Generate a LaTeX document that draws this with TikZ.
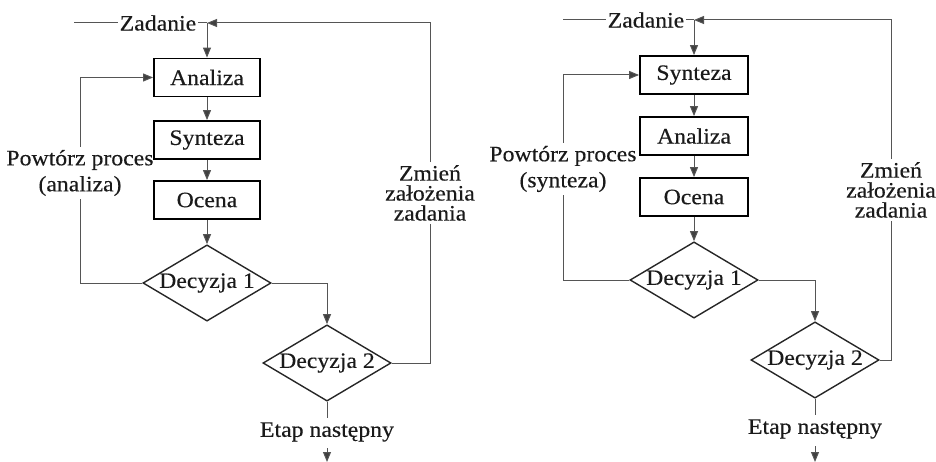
\documentclass[tikz,border=0pt]{standalone}
\usepackage{fontspec}
\setmainfont{Liberation Serif}[FakeStretch=1.08,FakeBold=0.3]
\usetikzlibrary{shapes.geometric,arrows.meta}
\definecolor{linegray}{HTML}{555555}
\definecolor{tipgray}{HTML}{404040}
\definecolor{textgray}{HTML}{1A1A1A}
\begin{document}
\begin{tikzpicture}[x=1pt,y=-1pt,
  font=\fontsize{22}{24}\selectfont, text=textgray,
  stepbox/.style={draw=black,line width=1.8pt,minimum width=106pt,minimum height=38pt,inner sep=0pt},
  choice/.style={diamond,draw=black!85,line width=1.4pt,aspect=1.68,minimum width=124pt,minimum height=74pt,inner sep=0pt},
  conn/.style={draw=linegray,line width=1pt},
  flow/.style={conn,-{Triangle[length=10pt,width=8pt,fill=tipgray]}},
  looplabel/.style={align=center,inner sep=3pt,font=\fontsize{22}{26}\selectfont},
  sidelabel/.style={align=center,inner sep=3pt,font=\fontsize{22}{20}\selectfont},
  plain/.style={inner sep=2pt}]
\useasboundingbox (0,0) rectangle (936,462);

% ---- left flow: analysis first ----
\coordinate (s1) at (74,23);
\coordinate (j1) at (207,23);
\node[plain] (z1) at (158,23) {Zadanie};
\node[stepbox] (a1) at (207,77.5) {Analiza};
\node[stepbox] (b1) at (207,140) {Synteza};
\node[stepbox] (c1) at (207,200) {Ocena};
\node[choice] (d1) at (207,283) {Decyzja 1};
\node[choice] (e1) at (327,363) {Decyzja 2};
\node[looplabel] (t1) at (80,173) {Powtórz proces\\(analiza)};
\node[sidelabel] (u1) at (430,193) {Zmień\\założenia\\zadania};
\coordinate (l1) at (80,283);
\coordinate (r1) at (430,363);
\coordinate (n1) at (327,418);
\node[plain] (x1) at (327,432) {Etap następny};
\coordinate (p1) at (327,448);
\coordinate (q1) at (327,462);

\draw[conn] (s1) -- (s1 -| z1.west);
\draw[conn] (z1.east |- j1) -- (j1);
\draw[flow] (j1) -- (a1.north);
\draw[flow] (a1) -- (b1);
\draw[flow] (b1) -- (c1);
\draw[flow] (c1) -- (d1.north);
\draw[conn] (d1.west) -- (l1) -- (t1.south);
\draw[flow] (t1.north) |- (a1.west);
\draw[flow] (d1.east) -| (e1.north);
\draw[conn] (e1.east) -- (r1) -- (u1.south);
\draw[flow] (u1.north) |- (j1);
\draw[conn] (e1.south) -- (n1);
\draw[flow] (p1) -- (q1);

% ---- right flow: synthesis first ----
\coordinate (s2) at (563,20);
\coordinate (j2) at (694,20);
\node[plain] (z2) at (646,20) {Zadanie};
\node[stepbox,minimum width=108pt] (a2) at (694,75) {Synteza};
\node[stepbox,minimum width=108pt] (b2) at (694,136) {Analiza};
\node[stepbox,minimum width=108pt] (c2) at (694,197) {Ocena};
\node[choice] (d2) at (694,280) {Decyzja 1};
\node[choice] (e2) at (815,360) {Decyzja 2};
\node[looplabel] (t2) at (563,169) {Powtórz proces\\(synteza)};
\node[sidelabel] (u2) at (891,190) {Zmień\\założenia\\zadania};
\coordinate (l2) at (563,280);
\coordinate (r2) at (891,360);
\coordinate (n2) at (815,415);
\node[plain] (x2) at (815,429) {Etap następny};
\coordinate (p2) at (815,446);
\coordinate (q2) at (815,462);

\draw[conn] (s2) -- (s2 -| z2.west);
\draw[conn] (z2.east |- j2) -- (j2);
\draw[flow] (j2) -- (a2.north);
\draw[flow] (a2) -- (b2);
\draw[flow] (b2) -- (c2);
\draw[flow] (c2) -- (d2.north);
\draw[conn] (d2.west) -- (l2) -- (t2.south);
\draw[flow] (t2.north) |- (a2.west);
\draw[flow] (d2.east) -| (e2.north);
\draw[conn] (e2.east) -- (r2) -- (u2.south);
\draw[flow] (u2.north) |- (j2);
\draw[conn] (e2.south) -- (n2);
\draw[flow] (p2) -- (q2);
\end{tikzpicture}
\end{document}
